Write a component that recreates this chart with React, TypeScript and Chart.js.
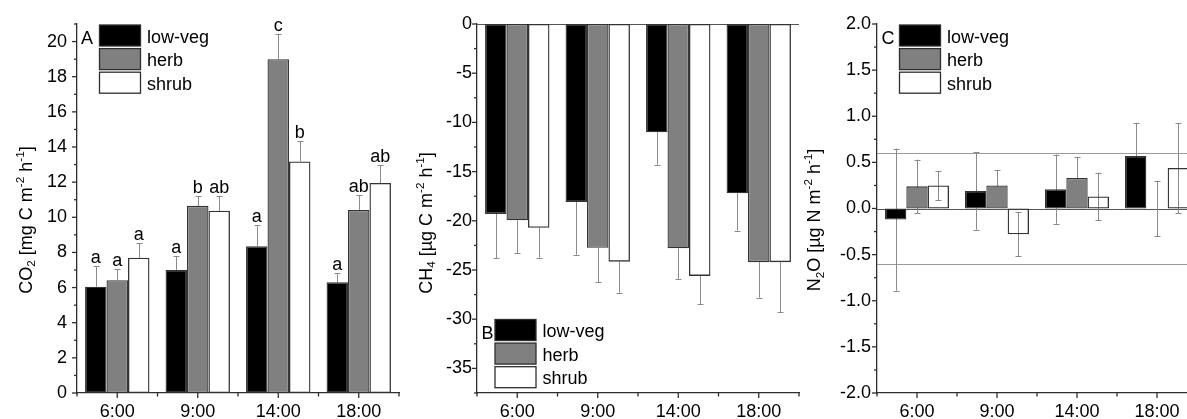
import React, { useEffect, useRef } from 'react';
import { Chart, registerables } from 'chart.js';

Chart.register(...registerables);

const FONT = '"Liberation Sans", Arial, Helvetica, sans-serif';

// Sampling times and vegetation classes
const times = ['6:00', '9:00', '14:00', '18:00'];
const vegNames = ['low-veg', 'herb', 'shrub'];
const vegFill = ['#000000', '#808080', 'rgba(255,255,255,0)'];
const vegLegendFill = ['#000000', '#808080', '#ffffff'];

// CO2 flux [mg C m-2 h-1], mean and standard error
const co2LowVeg = [6.05, 7.0, 8.35, 6.3];
const co2Herb = [6.42, 10.65, 19.0, 10.42];
const co2Shrub = [7.7, 10.37, 13.18, 11.95];
const co2LowVegErr = [1.15, 0.77, 1.2, 0.53];
const co2HerbErr = [0.62, 0.55, 1.45, 0.83];
const co2ShrubErr = [0.84, 0.83, 1.15, 1.03];
const co2LowVegLetters = ['a', 'a', 'a', 'a'];
const co2HerbLetters = ['a', 'b', 'c', 'ab'];
const co2ShrubLetters = ['a', 'ab', 'b', 'ab'];

// CH4 flux [µg C m-2 h-1]
const ch4LowVeg = [-19.3, -18.1, -11.0, -17.2];
const ch4Herb = [-19.95, -22.75, -22.8, -24.2];
const ch4Shrub = [-20.7, -24.15, -25.6, -24.2];
const ch4LowVegErr = [4.5, 5.35, 3.3, 3.8];
const ch4HerbErr = [3.35, 3.5, 3.1, 3.6];
const ch4ShrubErr = [3.05, 3.15, 2.9, 5.1];

// N2O flux [µg N m-2 h-1]
const n2oLowVeg = [-0.12, 0.19, 0.21, 0.57];
const n2oHerb = [0.24, 0.25, 0.33, 0.0];
const n2oShrub = [0.25, -0.28, 0.13, 0.44];
const n2oLowVegErr = [0.77, 0.42, 0.375, 0.36];
const n2oHerbErr = [0.29, 0.17, 0.23, 0.3];
const n2oShrubErr = [0.16, 0.24, 0.26, 0.49];
// detection limit band
const n2oDetectionLimit = [0.6, -0.6];

type Seg = { t: string; k?: 'sub' | 'sup' };

interface PanelCfg {
  values: number[][];
  errors: number[][];
  letters?: string[][];
  errMode: 'up' | 'down' | 'both';
  min: number;
  max: number;
  step: number;
  minor: number;
  decimals: number;
  labelPad: number;
  refLines: { v: number; color: string }[];
  title: Seg[];
  titleX: number;
  titleY: number;
  legend: { tag: string; tagX: number; boxX: number; top: number; textX: number };
  padRight: number;
}

const AXIS = '#2e2e2e';
const ERR = '#8a8a8a';

function line(ctx: CanvasRenderingContext2D, x1: number, y1: number, x2: number, y2: number) {
  ctx.beginPath();
  ctx.moveTo(x1, y1);
  ctx.lineTo(x2, y2);
  ctx.stroke();
}

function drawRich(ctx: CanvasRenderingContext2D, segs: Seg[], x: number, y: number, size: number) {
  const small = size * 0.65;
  ctx.save();
  ctx.translate(x, y);
  ctx.rotate(-Math.PI / 2);
  let width = 0;
  for (const s of segs) {
    ctx.font = `${s.k ? small : size}px ${FONT}`;
    width += ctx.measureText(s.t).width;
  }
  let cx = -width / 2;
  ctx.textAlign = 'left';
  ctx.textBaseline = 'alphabetic';
  ctx.fillStyle = '#000';
  for (const s of segs) {
    ctx.font = `${s.k ? small : size}px ${FONT}`;
    const dy = s.k === 'sub' ? size * 0.22 : s.k === 'sup' ? -size * 0.42 : 0;
    ctx.fillText(s.t, cx, dy);
    cx += ctx.measureText(s.t).width;
  }
  ctx.restore();
}

function makeDecor(cfg: PanelCfg) {
  return {
    id: 'decor',
    beforeDatasetsDraw(chart: any) {
      const ctx: CanvasRenderingContext2D = chart.ctx;
      const ca = chart.chartArea;
      const ys = chart.scales.y;
      ctx.save();
      // reference lines
      ctx.lineWidth = 1;
      for (const r of cfg.refLines) {
        const py = Math.round(ys.getPixelForValue(r.v)) + 0.5;
        ctx.strokeStyle = r.color;
        line(ctx, ca.left, py, ca.right, py);
      }
      // error bars (behind the bars)
      ctx.strokeStyle = ERR;
      ctx.lineWidth = 1;
      cfg.values.forEach((vals, d) => {
        const meta = chart.getDatasetMeta(d);
        vals.forEach((v, i) => {
          const el = meta.data[i];
          if (!el) return;
          const e = cfg.errors[d][i];
          const x = Math.round(el.x) + 0.5;
          let a = v;
          let b = v;
          if (cfg.errMode === 'up') b = v + e;
          else if (cfg.errMode === 'down') b = v - e;
          else {
            a = v - e;
            b = v + e;
          }
          const pa = ys.getPixelForValue(a);
          const pb = ys.getPixelForValue(b);
          line(ctx, x, pa, x, pb);
          line(ctx, x - 3, Math.round(pb) + 0.5, x + 3, Math.round(pb) + 0.5);
          if (cfg.errMode === 'both') line(ctx, x - 3, Math.round(pa) + 0.5, x + 3, Math.round(pa) + 0.5);
        });
      });
      ctx.restore();
    },
    afterDraw(chart: any) {
      const ctx: CanvasRenderingContext2D = chart.ctx;
      const ca = chart.chartArea;
      const ys = chart.scales.y;
      const xs = chart.scales.x;
      ctx.save();
      ctx.strokeStyle = AXIS;
      ctx.lineWidth = 1.3;
      // y ticks, major and minor
      const n = Math.round((cfg.max - cfg.min) / cfg.minor);
      for (let i = 0; i <= n; i++) {
        const v = cfg.min + i * cfg.minor;
        const r = v / cfg.step;
        const major = Math.abs(r - Math.round(r)) < 1e-6;
        const py = ys.getPixelForValue(v);
        line(ctx, ca.left - (major ? 5 : 3), py, ca.left, py);
      }
      // x ticks at category centres and boundaries
      const nc = times.length;
      const cw = (ca.right - ca.left) / nc;
      for (let i = 0; i <= nc; i++) {
        const px = ca.left + i * cw;
        line(ctx, px, ca.bottom, px, ca.bottom + 3.5);
      }
      for (let i = 0; i < nc; i++) {
        const px = xs.getPixelForValue(i);
        line(ctx, px, ca.bottom, px, ca.bottom + 5);
      }
      // significance letters
      if (cfg.letters) {
        ctx.fillStyle = '#000';
        ctx.font = `18px ${FONT}`;
        ctx.textAlign = 'center';
        ctx.textBaseline = 'alphabetic';
        cfg.letters.forEach((ls, d) => {
          const meta = chart.getDatasetMeta(d);
          ls.forEach((l, i) => {
            const el = meta.data[i];
            const top = ys.getPixelForValue(cfg.values[d][i] + cfg.errors[d][i]);
            ctx.fillText(l, el.x, top - 3);
          });
        });
      }
      // axis title
      drawRich(ctx, cfg.title, cfg.titleX, cfg.titleY, 18);
      // legend
      const lg = cfg.legend;
      ctx.fillStyle = '#000';
      ctx.font = `18px ${FONT}`;
      ctx.textAlign = 'left';
      ctx.textBaseline = 'alphabetic';
      ctx.fillText(lg.tag, lg.tagX, lg.top + 19);
      vegNames.forEach((name, k) => {
        const top = lg.top + k * 23.6;
        ctx.fillStyle = vegLegendFill[k];
        ctx.fillRect(lg.boxX, top, 41, 21);
        ctx.strokeStyle = AXIS;
        ctx.lineWidth = 1.3;
        ctx.strokeRect(lg.boxX, top, 41, 21);
        ctx.fillStyle = '#000';
        ctx.fillText(name, lg.textX, top + 17.5);
      });
      ctx.restore();
    },
  };
}

function Panel({ cfg, left }: { cfg: PanelCfg; left: number }) {
  const ref = useRef<HTMLCanvasElement>(null);
  useEffect(() => {
    const font = { family: FONT, size: 18 };
    const chart = new Chart(ref.current as HTMLCanvasElement, {
      type: 'bar',
      data: {
        labels: times,
        datasets: cfg.values.map((vals, d) => ({
          label: vegNames[d],
          data: vals,
          backgroundColor: vegFill[d],
          borderColor: '#333333',
          borderWidth: 1.3,
          borderSkipped: false,
          categoryPercentage: 0.8,
          barPercentage: 1.0,
        })),
      },
      options: {
        animation: false,
        responsive: false,
        layout: { padding: { top: 24, right: cfg.padRight, left: 0, bottom: 0 } },
        plugins: { legend: { display: false }, tooltip: { enabled: false } },
        scales: {
          x: {
            type: 'category',
            offset: true,
            grid: { display: false, drawTicks: false },
            border: { display: true, color: AXIS, width: 1.3 },
            ticks: { font, color: '#000', padding: 8, maxRotation: 0, autoSkip: false },
            afterFit: (s: any) => {
              s.height = 26;
            },
          },
          y: {
            type: 'linear',
            min: cfg.min,
            max: cfg.max,
            grid: { display: false, drawTicks: false },
            border: { display: true, color: AXIS, width: 1.3 },
            ticks: {
              font,
              color: '#000',
              stepSize: cfg.step,
              includeBounds: false,
              padding: cfg.labelPad,
              callback: (v: any) => Number(v).toFixed(cfg.decimals),
            },
            afterFit: (s: any) => {
              s.width = 77;
            },
          },
        },
      },
      plugins: [makeDecor(cfg)],
    } as any);
    return () => chart.destroy();
  }, [cfg]);
  return (
    <div style={{ position: 'absolute', left, top: 0, width: 400, height: 419 }}>
      <canvas ref={ref} width={400} height={419} style={{ width: 400, height: 419, display: 'block' }} />
    </div>
  );
}

const co2Cfg: PanelCfg = {
  values: [co2LowVeg, co2Herb, co2Shrub],
  errors: [co2LowVegErr, co2HerbErr, co2ShrubErr],
  letters: [co2LowVegLetters, co2HerbLetters, co2ShrubLetters],
  errMode: 'up',
  min: 0,
  max: 21,
  step: 2,
  minor: 1,
  decimals: 0,
  labelPad: 10,
  refLines: [],
  title: [{ t: 'CO' }, { t: '2', k: 'sub' }, { t: ' [mg C m' }, { t: '-2', k: 'sup' }, { t: ' h' }, { t: '-1', k: 'sup' }, { t: ']' }],
  titleX: 31.5,
  titleY: 220,
  legend: { tag: 'A', tagX: 81, boxX: 99.5, top: 25, textX: 147 },
  padRight: 1,
};

const ch4Cfg: PanelCfg = {
  values: [ch4LowVeg, ch4Herb, ch4Shrub],
  errors: [ch4LowVegErr, ch4HerbErr, ch4ShrubErr],
  errMode: 'down',
  min: -37.5,
  max: 0,
  step: 5,
  minor: 2.5,
  decimals: 0,
  labelPad: 5,
  refLines: [{ v: 0, color: '#555555' }],
  title: [{ t: 'CH' }, { t: '4', k: 'sub' }, { t: ' [µg C m' }, { t: '-2', k: 'sup' }, { t: ' h' }, { t: '-1', k: 'sup' }, { t: ']' }],
  titleX: 31.5,
  titleY: 223,
  legend: { tag: 'B', tagX: 81.5, boxX: 95, top: 319.5, textX: 142.5 },
  padRight: 1,
};

const n2oCfg: PanelCfg = {
  values: [n2oLowVeg, n2oHerb, n2oShrub],
  errors: [n2oLowVegErr, n2oHerbErr, n2oShrubErr],
  errMode: 'both',
  min: -2,
  max: 2,
  step: 0.5,
  minor: 0.25,
  decimals: 1,
  labelPad: 6,
  refLines: [
    { v: 0, color: '#555555' },
    ...n2oDetectionLimit.map((v) => ({ v, color: '#9a9a9a' })),
  ],
  title: [{ t: 'N' }, { t: '2', k: 'sub' }, { t: 'O [µg N m' }, { t: '-2', k: 'sup' }, { t: ' h' }, { t: '-1', k: 'sup' }, { t: ']' }],
  titleX: 20,
  titleY: 220,
  legend: { tag: 'C', tagX: 81.5, boxX: 99.5, top: 25, textX: 147 },
  padRight: 3,
};

export default function App() {
  return (
    <div
      style={{
        position: 'absolute',
        left: 0,
        top: 0,
        width: 1187,
        height: 419,
        overflow: 'hidden',
        background: '#fff',
      }}
    >
      <Panel cfg={co2Cfg} left={0} />
      <Panel cfg={ch4Cfg} left={400} />
      <Panel cfg={n2oCfg} left={800} />
    </div>
  );
}
